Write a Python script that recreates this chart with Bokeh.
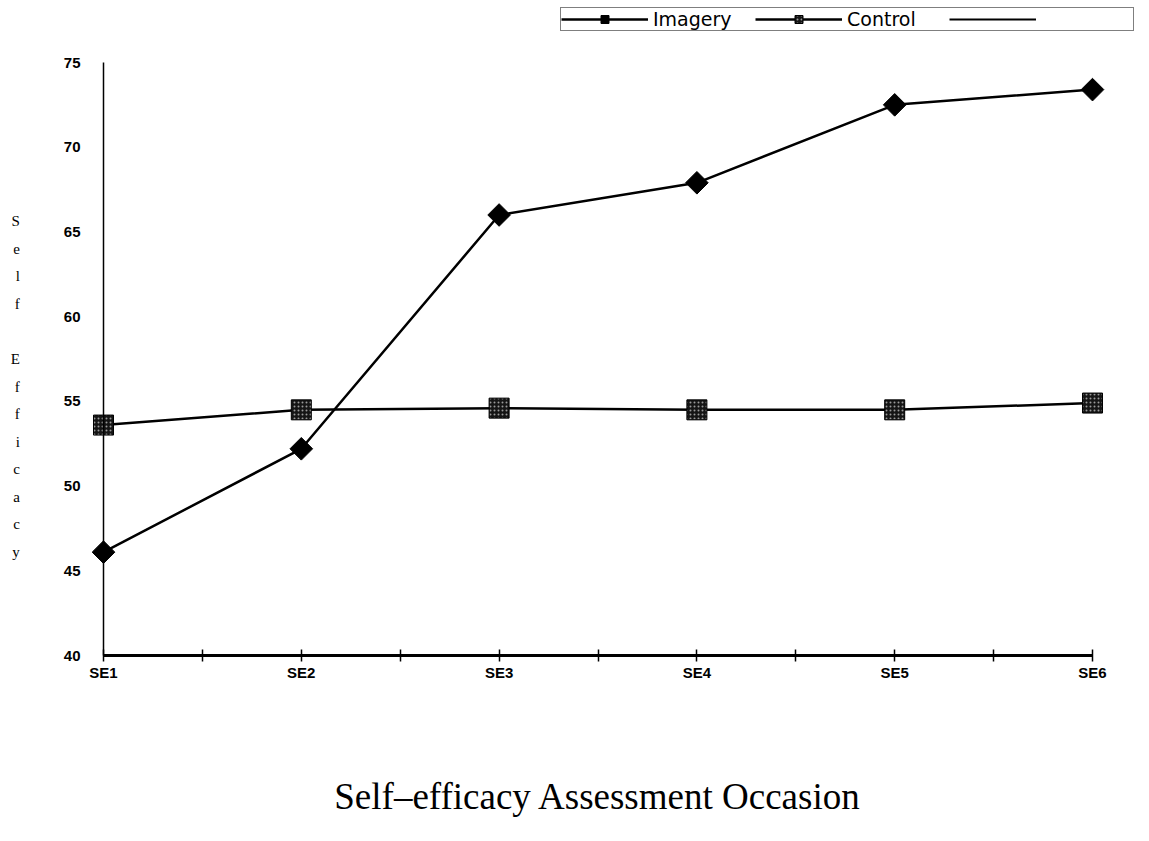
import numpy as np
from bokeh.plotting import figure
from bokeh.models import (Range1d, FixedTicker, Legend, LegendItem)
from bokeh.embed import file_html
from bokeh.resources import INLINE

# ---- data ----
categories = ["SE1", "SE2", "SE3", "SE4", "SE5", "SE6"]
imagery = [46.1, 52.2, 66.0, 67.9, 72.5, 73.4]
control = [53.6, 54.5, 54.6, 54.5, 54.5, 54.9]
y_ticks = [40, 45, 50, 55, 60, 65, 70, 75]
series_names = ["Imagery", "Control", " "]
y_label_letters = ["S", "e", "l", "f", " ", "E", "f", "f", "i", "c", "a", "c", "y"]
x_title = "Self\u2013efficacy Assessment Occasion"

xs = list(range(1, len(categories) + 1))

W, H = 1141, 833
# pixel geometry of the plotting area (frame fills the canvas)
X0_PX, X1_PX = 103, 1092      # first / last category
Y0_PX, Y1_PX = 655, 62        # y = 40 / y = 75
ppx = (X1_PX - X0_PX) / (xs[-1] - xs[0])
ppy = (Y0_PX - Y1_PX) / (y_ticks[-1] - y_ticks[0])
x_start = xs[0] - X0_PX / ppx
x_end = xs[0] + (W - X0_PX) / ppx
y_start = y_ticks[0] - (H - Y0_PX) / ppy
y_end = y_ticks[0] + Y0_PX / ppy

p = figure(width=W, height=H, output_backend="svg", toolbar_location=None,
           x_range=Range1d(x_start, x_end), y_range=Range1d(y_start, y_end),
           min_border=0, min_border_left=0, min_border_right=0,
           min_border_top=0, min_border_bottom=0)
p.grid.visible = False
p.outline_line_color = None
p.background_fill_color = "white"
p.border_fill_color = "white"

# series
l1 = p.line(xs, imagery, line_color="black", line_width=2.5)
s1 = p.scatter(xs, imagery, marker="square", angle=np.pi / 4, size=16,
               fill_color="black", line_color="black")
l2 = p.line(xs, control, line_color="black", line_width=2.5)
s2 = p.scatter(xs, control, marker="square", size=20,
               fill_color="#151515", line_color="black",
               hatch_pattern="dot", hatch_color="#999999", hatch_scale=4, hatch_weight=1)
l3 = p.line([np.nan, np.nan], [np.nan, np.nan], line_color="black", line_width=2)

# x axis
xa = p.xaxis[0]
xa.fixed_location = y_ticks[0]
xa.bounds = (xs[0], xs[-1])
ticks = [1 + 0.5 * i for i in range(2 * len(categories) - 1)]
xa.ticker = FixedTicker(ticks=ticks)
overrides = {}
for t in ticks:
    overrides[t] = categories[int(t) - 1] if float(t).is_integer() else ""
xa.major_label_overrides = overrides
xa.axis_line_color = "black"
xa.axis_line_width = 3
xa.major_tick_in = 6
xa.major_tick_out = 6
xa.major_tick_line_width = 1.5
xa.minor_tick_line_color = None
xa.major_label_standoff = 2
xa.major_label_text_font = "Liberation Sans"
xa.major_label_text_font_style = "bold"
xa.major_label_text_font_size = "15px"
xa.major_label_text_color = "black"
xa.axis_label = x_title
xa.axis_label_text_font = "Liberation Serif"
xa.axis_label_text_font_style = "normal"
xa.axis_label_text_font_size = "37px"
xa.axis_label_text_color = "black"
xa.axis_label_standoff = 92

# y axis
ya = p.yaxis[0]
ya.fixed_location = xs[0]
ya.bounds = (y_ticks[0], y_ticks[-1])
ya.ticker = FixedTicker(ticks=y_ticks)
ya.axis_line_color = "black"
ya.axis_line_width = 1.5
ya.major_tick_line_color = None
ya.minor_tick_line_color = None
ya.major_tick_in = 0
ya.major_tick_out = 0
ya.major_label_standoff = 23
ya.major_label_text_font = "Liberation Sans"
ya.major_label_text_font_style = "bold"
ya.major_label_text_font_size = "15px"
ya.major_label_text_color = "black"
ya.axis_label = "\n".join([" ", " "] + y_label_letters)
ya.axis_label_orientation = "horizontal"
ya.axis_label_text_font = "Liberation Serif"
ya.axis_label_text_font_style = "normal"
ya.axis_label_text_font_size = "15px"
ya.axis_label_text_line_height = 1.72
ya.axis_label_text_color = "black"
ya.axis_label_standoff = 41

# legend
legend = Legend(items=[
    LegendItem(label=series_names[0], renderers=[l1, s1]),
    LegendItem(label=series_names[1], renderers=[l2, s2]),
    LegendItem(label=series_names[2], renderers=[l3]),
], orientation="horizontal", location=(560, H - 8 - 23),
    glyph_width=87, glyph_height=20, label_width=92, label_height=20,
    label_standoff=5, spacing=10, padding=0, margin=0,
    border_line_color="black", border_line_width=1.5,
    background_fill_color="white", background_fill_alpha=1,
    label_text_font="DejaVu Sans", label_text_font_size="19px",
    label_text_color="black", label_text_baseline="middle")
p.add_layout(legend, "center")

open("out.html", "w").write(file_html(p, INLINE))
